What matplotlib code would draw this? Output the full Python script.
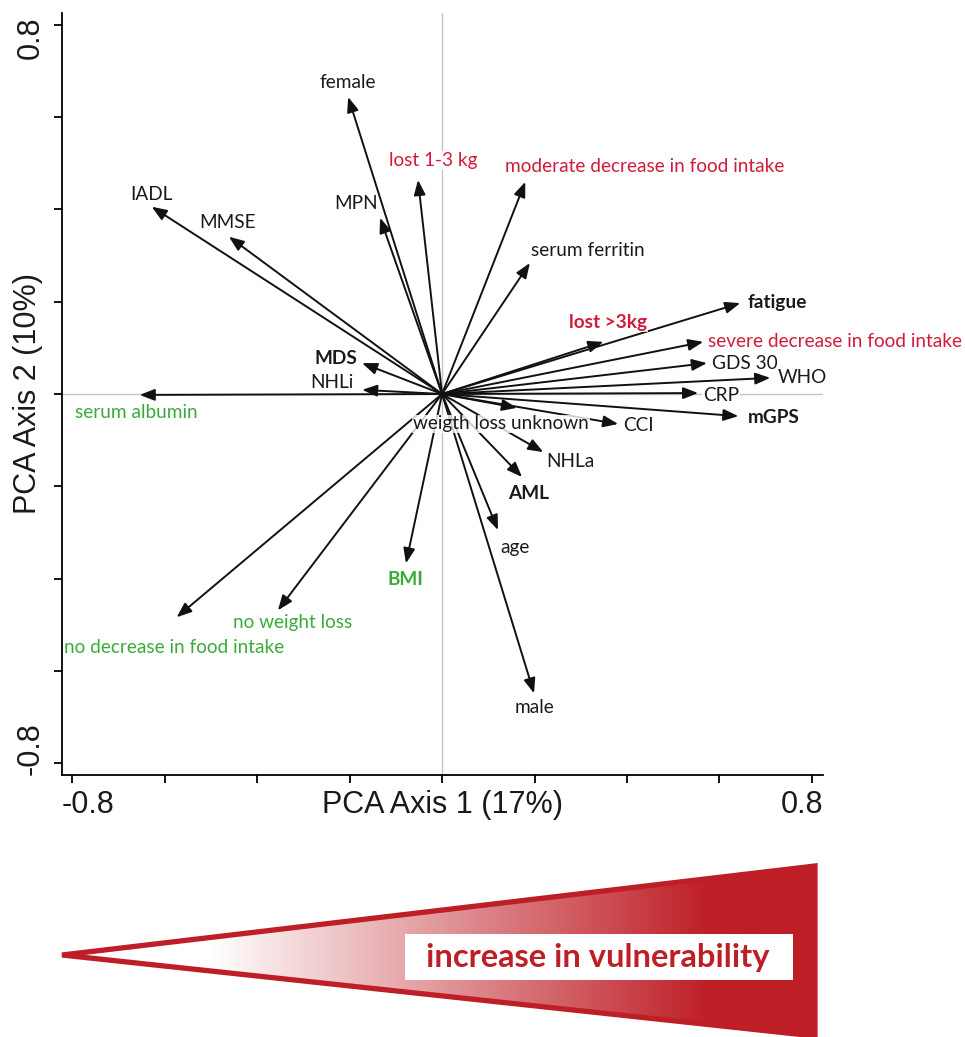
import numpy as np
import matplotlib.pyplot as plt
from matplotlib.path import Path
from matplotlib.patches import PathPatch, Polygon, Rectangle

# PCA loadings
variables = ["female", "lost 1-3 kg", "IADL", "MMSE", "MPN", "MDS", "NHLi",
             "serum albumin", "moderate decrease in food intake", "serum ferritin",
             "fatigue", "lost >3kg", "severe decrease in food intake", "GDS 30",
             "WHO", "CRP", "mGPS", "CCI", "weigth loss unknown", "NHLa", "AML",
             "age", "male", "BMI", "no weight loss", "no decrease in food intake"]
pc1 = [-0.203, -0.052, -0.628, -0.461, -0.134, -0.173, -0.173, -0.654, 0.180,
       0.190, 0.645, 0.349, 0.565, 0.573, 0.710, 0.554, 0.641, 0.381, 0.162,
       0.219, 0.173, 0.121, 0.199, -0.078, -0.355, -0.574]
pc2 = [0.644, 0.464, 0.406, 0.341, 0.382, 0.067, 0.009, -0.002, 0.460, 0.284,
       0.197, 0.113, 0.113, 0.067, 0.035, 0.002, -0.048, -0.065, -0.030,
       -0.126, -0.180, -0.295, -0.649, -0.367, -0.469, -0.484]
group = ["k", "r", "k", "k", "k", "k", "k", "g", "r", "k", "k", "r", "r", "k",
         "k", "k", "k", "k", "k", "k", "k", "k", "k", "g", "g", "g"]
bold = {"MDS", "fatigue", "lost >3kg", "mGPS", "AML", "BMI"}

# label anchor (x, y, ha) in data units
label_pos = {
    "female": (-0.203, 0.676, "center"),
    "lost 1-3 kg": (-0.019, 0.507, "center"),
    "IADL": (-0.629, 0.433, "center"),
    "MMSE": (-0.463, 0.371, "center"),
    "MPN": (-0.186, 0.412, "center"),
    "MDS": (-0.184, 0.076, "right"),
    "NHLi": (-0.192, 0.024, "right"),
    "serum albumin": (-0.794, -0.041, "left"),
    "moderate decrease in food intake": (0.136, 0.494, "left"),
    "serum ferritin": (0.192, 0.312, "left"),
    "fatigue": (0.662, 0.199, "left"),
    "lost >3kg": (0.275, 0.154, "left"),
    "severe decrease in food intake": (0.575, 0.113, "left"),
    "GDS 30": (0.584, 0.067, "left"),
    "WHO": (0.726, 0.035, "left"),
    "CRP": (0.564, -0.004, "left"),
    "mGPS": (0.662, -0.052, "left"),
    "CCI": (0.391, -0.069, "left"),
    "weigth loss unknown": (-0.063, -0.065, "left"),
    "NHLa": (0.225, -0.147, "left"),
    "AML": (0.143, -0.215, "left"),
    "age": (0.158, -0.332, "center"),
    "male": (0.199, -0.680, "center"),
    "BMI": (-0.080, -0.403, "center"),
    "no weight loss": (-0.452, -0.496, "left"),
    "no decrease in food intake": (-0.817, -0.550, "left"),
}
boxed = {"lost 1-3 kg", "moderate decrease in food intake", "lost >3kg",
         "severe decrease in food intake", "CRP", "weigth loss unknown"}

colors = {"k": "#1a1a1a", "r": "#d01c3c", "g": "#3aab3a"}
RED = np.array([190, 30, 38]) / 255

fig = plt.figure(figsize=(9.65, 10.37), dpi=100)
ax = fig.add_axes([62 / 965, 1 - 775 / 1037, 761 / 965, 762 / 1037])
ax.set_xlim(-0.822, 0.824)
ax.set_ylim(-0.826, 0.826)
for s in ["top", "right"]:
    ax.spines[s].set_visible(False)
for s in ["left", "bottom"]:
    ax.spines[s].set_linewidth(1.3)
ticks = [-0.8, -0.6, -0.4, -0.2, 0, 0.2, 0.4, 0.6, 0.8]
ax.set_xticks(ticks)
ax.set_yticks(ticks)
ax.set_xticklabels([])
ax.set_yticklabels([])
ax.tick_params(direction="out", length=6, width=1.3)

ax.axhline(0, color="#c4c4c4", lw=1, zorder=0)
ax.axvline(0, color="#c4c4c4", lw=1, zorder=0)

for name, x, y, g in zip(variables, pc1, pc2, group):
    ax.annotate("", xy=(x, y), xytext=(0, 0),
                arrowprops=dict(arrowstyle="-|>,head_length=0.9,head_width=0.35",
                                color="#111111", lw=1.4, shrinkA=0, shrinkB=0,
                                mutation_scale=10), zorder=2)
    lx, ly, ha = label_pos[name]
    bb = None
    if name in boxed:
        bb = dict(boxstyle="square,pad=0.05", fc="white", ec="none", alpha=0.8)
    ax.text(lx, ly, name, ha=ha, va="center", fontsize=13.7, family="Lato",
            color=colors[g], fontweight="bold" if name in bold else "normal",
            bbox=bb, zorder=3)

tick_font = dict(family="Liberation Sans", fontsize=22, color="#1a1a1a")
ax.text(0, -0.039, "-0.8", transform=ax.transAxes, ha="left", va="center", **tick_font)
ax.text(1, -0.039, "0.8", transform=ax.transAxes, ha="right", va="center", **tick_font)
ax.text(0.5, -0.039, "PCA Axis 1 (17%)", transform=ax.transAxes, ha="center",
        va="center", **tick_font)
ax.text(-0.041, 0.995, "0.8", transform=ax.transAxes, ha="center", va="top",
        rotation=90, **tick_font)
ax.text(-0.041, 0, "-0.8", transform=ax.transAxes, ha="center", va="bottom",
        rotation=90, **tick_font)
ax.text(-0.045, 0.5, "PCA Axis 2 (10%)", transform=ax.transAxes, ha="center",
        va="center", rotation=90, **tick_font)

# vulnerability wedge in pixel units
wx = fig.add_axes([0, 0, 1, 1 - 850 / 1037])
wx.set_xlim(0, 965)
wx.set_ylim(1037, 850)
wx.axis("off")
tri = [(62, 955), (815, 866), (815, 1036)]
t = np.clip((np.linspace(0, 965, 600) - 210) / 500, 0, 1)
grad = np.ones((2, 600, 3)) * (1 - t[None, :, None]) + RED[None, None, :] * t[None, :, None]
im = wx.imshow(grad, extent=[0, 965, 1037, 850], aspect="auto", zorder=1)
clip = PathPatch(Path(tri + [tri[0]], closed=True), transform=wx.transData,
                 fc="none", ec="none")
wx.add_patch(clip)
im.set_clip_path(clip)
wx.add_patch(Polygon(tri, closed=True, fc="none", ec=RED, lw=3.8,
                     joinstyle="miter", zorder=2))
wx.add_patch(Rectangle((405, 934), 388, 46, fc="white", ec="none", zorder=3))
wx.text(598, 958, "increase in vulnerability", ha="center", va="center",
        fontsize=23.5, family="Lato", fontweight="bold", color=RED, zorder=4)
wx.set_xlim(0, 965)
wx.set_ylim(1037, 850)

fig.savefig("out.png", dpi=100)
